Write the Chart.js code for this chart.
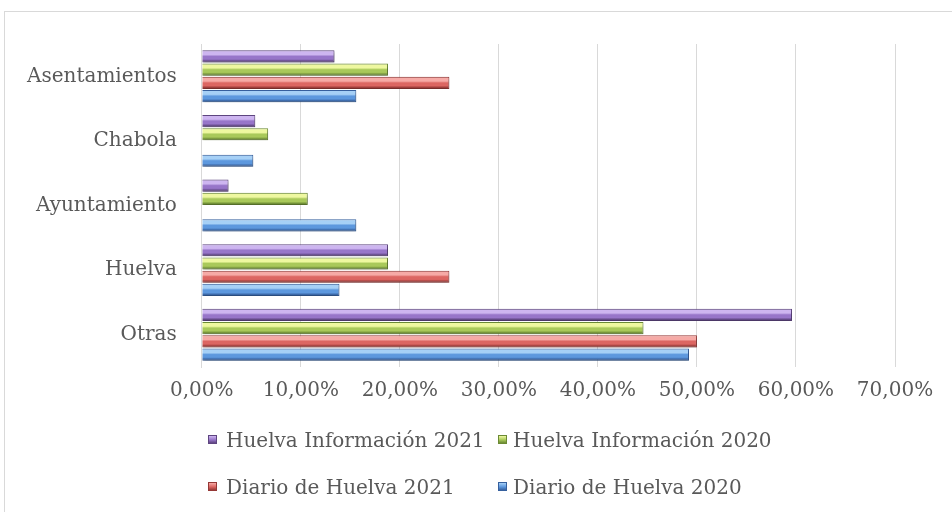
<!DOCTYPE html>
<html>
<head>
<meta charset="utf-8">
<script src="https://cdn.jsdelivr.net/npm/chart.js@4/dist/chart.umd.min.js"></script>
<style>
  html, body { margin: 0; padding: 0; background: #fff; }
  body { width: 952px; height: 512px; position: relative; overflow: hidden; font-family: "DejaVu Serif", serif; }
  #frame { position: absolute; left: 4px; top: 11px; width: 980px; height: 540px; border: 1px solid #d9d9d9; box-sizing: border-box; }
  #c { position: absolute; left: 0; top: 0; }
  .lg { position: absolute; font-size: 20px; color: #595959; white-space: nowrap; line-height: 24px; }
  .lg i { position: absolute; left: 0; top: 7px; width: 9px; height: 9px; }
</style>
</head>
<body>
<div id="frame"></div>
<canvas id="c" width="952" height="512"></canvas>
<div id="legend"></div>
<script>
const categories = ['Asentamientos', 'Chabola', 'Ayuntamiento', 'Huelva', 'Otras'];
const seriesNames = ['Huelva Información 2021', 'Huelva Información 2020', 'Diario de Huelva 2021', 'Diario de Huelva 2020'];
const huelvaInfo2021 = [0.134, 0.054, 0.027, 0.188, 0.596];
const huelvaInfo2020 = [0.188, 0.067, 0.107, 0.188, 0.446];
const diario2021 = [0.250, 0, 0, 0.250, 0.500];
const diario2020 = [0.156, 0.052, 0.156, 0.139, 0.492];
const tickLabels = ['0,00%', '10,00%', '20,00%', '30,00%', '40,00%', '50,00%', '60,00%', '70,00%'];

const palettes = [
  { light: '#cdb5f0', main: '#9775c9', dark: '#5e4580' },
  { light: '#eef8a0', main: '#a9c95a', dark: '#6b8a34' },
  { light: '#f6aaa6', main: '#dc6662', dark: '#953836' },
  { light: '#a6d0f6', main: '#5d98de', dark: '#36609e' }
];
const CAT_PCT = 0.82, BAR_PCT = 0.92;

function bevel(ctx, p, y0, y1) {
  const g = ctx.createLinearGradient(0, y0, 0, y1);
  g.addColorStop(0, p.dark);
  g.addColorStop(0.1, p.light);
  g.addColorStop(0.35, p.light);
  g.addColorStop(0.5, p.main);
  g.addColorStop(0.72, p.main);
  g.addColorStop(0.9, p.dark);
  g.addColorStop(1, p.dark);
  return g;
}

function barFill(d) {
  return function (context) {
    const chart = context.chart;
    const p = palettes[d];
    const ys = chart.scales && chart.scales.y;
    if (!chart.chartArea || !ys || context.type !== 'data') return p.main;
    const i = context.dataIndex;
    const cw = ys.height / categories.length;
    const group = cw * CAT_PCT;
    const stride = group / seriesNames.length;
    const c = ys.getPixelForValue(i);
    const top = c - group / 2 + stride * d + stride * (1 - BAR_PCT) / 2;
    return bevel(chart.ctx, p, top, top + stride * BAR_PCT);
  };
}

const allSeries = [huelvaInfo2021, huelvaInfo2020, diario2021, diario2020];
const datasets = allSeries.map((vals, d) => ({
  label: seriesNames[d],
  data: vals,
  backgroundColor: barFill(d),
  borderColor: palettes[d].dark,
  borderWidth: 1,
  borderSkipped: 'start',
  categoryPercentage: CAT_PCT,
  barPercentage: BAR_PCT
}));

const font = { family: '"DejaVu Serif", serif', size: 20 };

const barShadow = {
  id: 'barShadow',
  beforeDatasetsDraw(chart) {
    const ctx = chart.ctx;
    ctx.save();
    ctx.shadowColor = 'rgba(0,0,0,0.28)';
    ctx.shadowBlur = 3;
    ctx.shadowOffsetX = 1;
    ctx.shadowOffsetY = 2;
  },
  afterDatasetsDraw(chart) {
    chart.ctx.restore();
  }
};

const chart = new Chart(document.getElementById('c'), {
  type: 'bar',
  data: { labels: categories, datasets },
  plugins: [barShadow],
  options: {
    indexAxis: 'y',
    responsive: false,
    animation: false,
    layout: { padding: { left: 2, right: 57, top: 44, bottom: 97 } },
    plugins: { legend: { display: false }, tooltip: { enabled: false } },
    scales: {
      x: {
        min: 0, max: 0.7,
        grid: { color: '#d9d9d9', drawTicks: false, lineWidth: 1 },
        border: { display: false },
        ticks: {
          stepSize: 0.1, padding: 12, color: '#595959', font,
          callback: (v, idx) => tickLabels[idx]
        }
      },
      y: {
        grid: { display: false, drawTicks: false },
        border: { display: true, color: '#d9d9d9' },
        ticks: { padding: 25, color: '#595959', font }
      }
    }
  }
});

// legend (two rows, two aligned columns, as in the reference)
const legendPos = [[208, 428], [498, 428], [208, 475], [498, 475]];
const lg = document.getElementById('legend');
seriesNames.forEach((name, d) => {
  const el = document.createElement('div');
  el.className = 'lg';
  el.style.left = legendPos[d][0] + 'px';
  el.style.top = legendPos[d][1] + 'px';
  el.style.paddingLeft = (d % 2 === 0 ? 18 : 15) + 'px';
  const box = document.createElement('i');
  const p = palettes[d];
  box.style.background = 'linear-gradient(to bottom,' + p.light + ' 0%,' + p.main + ' 55%,' + p.dark + ' 100%)';
  box.style.border = '1px solid ' + p.dark;
  box.style.boxSizing = 'border-box';
  el.appendChild(box);
  el.appendChild(document.createTextNode(name));
  lg.appendChild(el);
});
</script>
</body>
</html>
